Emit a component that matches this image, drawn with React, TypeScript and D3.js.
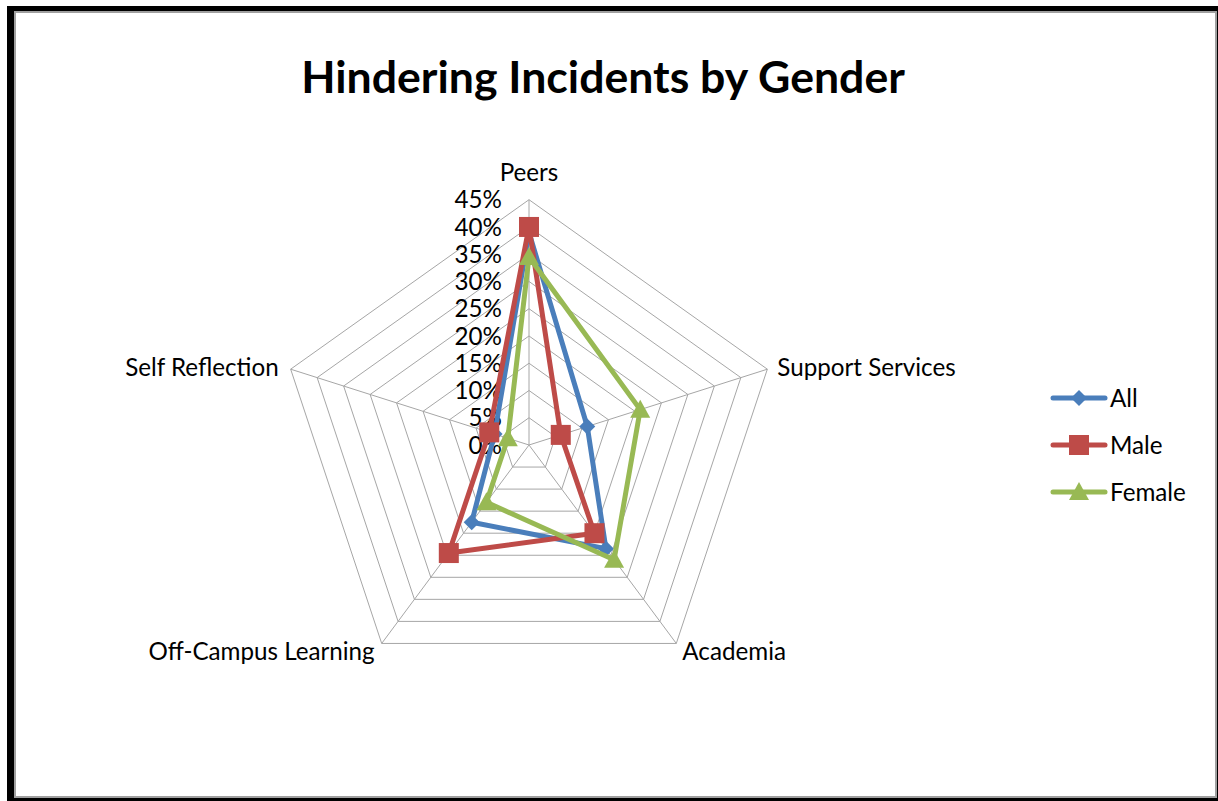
import React from "react";
import * as d3 from "d3";

const categories = ["Peers", "Support Services", "Academia", "Off-Campus Learning", "Self Reflection"];
const allValues = [0.39, 0.11, 0.235, 0.175, 0.065];
const maleValues = [0.40, 0.06, 0.20, 0.245, 0.075];
const femaleValues = [0.345, 0.21, 0.26, 0.13, 0.04];
const seriesNames = ["All", "Male", "Female"];
const seriesColors = ["#4A7EBB", "#BE4B48", "#98B954"];
const tickValues = [0, 0.05, 0.1, 0.15, 0.2, 0.25, 0.3, 0.35, 0.4, 0.45];
const tickLabels = ["0%", "5%", "10%", "15%", "20%", "25%", "30%", "35%", "40%", "45%"];

const FONT = "Lato, 'Open Sans', sans-serif";

export default function App() {
  const W = 1218, H = 801;
  const cx = 529, cy = 445, rx = 250.6, ry = 245.3;
  const r = d3.scaleLinear().domain([0, 0.45]).range([0, 1]);
  const n = categories.length;
  const angle = (i: number) => (i * 2 * Math.PI) / n;
  const pt = (i: number, v: number): [number, number] => [
    cx + rx * r(v) * Math.sin(angle(i)),
    cy - ry * r(v) * Math.cos(angle(i)),
  ];
  const series = [allValues, maleValues, femaleValues];
  const line = d3.line<[number, number]>().curve(d3.curveLinearClosed);

  const marker = (s: number, x: number, y: number, key: string) => {
    const c = seriesColors[s];
    if (s === 0) {
      const d = 8;
      return <path key={key} d={`M${x},${y - d}L${x + d},${y}L${x},${y + d}L${x - d},${y}Z`} fill={c} />;
    }
    if (s === 1) {
      const d = 10;
      return <rect key={key} x={x - d} y={y - d} width={2 * d} height={2 * d} fill={c} />;
    }
    const d = 10;
    return <path key={key} d={`M${x},${y - d}L${x + d},${y + d * 0.8}L${x - d},${y + d * 0.8}Z`} fill={c} />;
  };

  const labelPos: { dx: number; dy: number; anchor: string }[] = [
    { dx: 0, dy: -19, anchor: "middle" },
    { dx: 10, dy: 7, anchor: "start" },
    { dx: 6, dy: 17, anchor: "start" },
    { dx: -7, dy: 17, anchor: "end" },
    { dx: -12, dy: 7, anchor: "end" },
  ];
  const FS = 24.2;

  return (
    <svg width={W} height={H} style={{ position: "absolute", left: 0, top: 0 }} fontFamily={FONT}>
      <rect x={7} y={6} width={1211} height={795} fill="#000" />
      <rect x={15} y={12} width={1201} height={785} fill="#fff" stroke="#a0a0a0" strokeWidth={2} />
      <text x={603} y={93} textAnchor="middle" fontSize={44.6} fontWeight="bold" fill="#000">
        Hindering Incidents by Gender
      </text>
      {tickValues.slice(1).map((t, k) => (
        <path
          key={"ring" + k}
          d={line(categories.map((_, i) => pt(i, t)))!}
          fill="none"
          stroke="#a6a6a6"
          strokeWidth={1}
        />
      ))}
      {categories.map((_, i) => {
        const [x, y] = pt(i, 0.45);
        return <line key={"sp" + i} x1={cx} y1={cy} x2={x} y2={y} stroke="#a6a6a6" strokeWidth={1} />;
      })}
      {tickValues.map((t, k) => (
        <text key={"tl" + k} x={502} y={cy - ry * r(t)} dy="0.36em" textAnchor="end" fontSize={FS} fill="#000">
          {tickLabels[k]}
        </text>
      ))}
      {categories.map((c, i) => {
        const [x, y] = pt(i, 0.45);
        const p = labelPos[i];
        return (
          <text key={"cl" + i} x={x + p.dx} y={y + p.dy} textAnchor={p.anchor as any} fontSize={FS} fill="#000">
            {c}
          </text>
        );
      })}
      {series.map((vals, s) => (
        <g key={"s" + s}>
          <path
            d={line(vals.map((v, i) => pt(i, v)))!}
            fill="none"
            stroke={seriesColors[s]}
            strokeWidth={5}
            strokeLinejoin="round"
          />
          {vals.map((v, i) => {
            const [x, y] = pt(i, v);
            return marker(s, x, y, `m${s}-${i}`);
          })}
        </g>
      ))}
      {seriesNames.map((name, s) => {
        const y = 398 + s * 47;
        return (
          <g key={"lg" + s}>
            <line x1={1053} x2={1105} y1={y} y2={y} stroke={seriesColors[s]} strokeWidth={5} strokeLinecap="round" />
            {marker(s, 1079, y, "lm" + s)}
            <text x={1110} y={y} dy="0.36em" fontSize={FS} fill="#000">
              {name}
            </text>
          </g>
        );
      })}
    </svg>
  );
}
